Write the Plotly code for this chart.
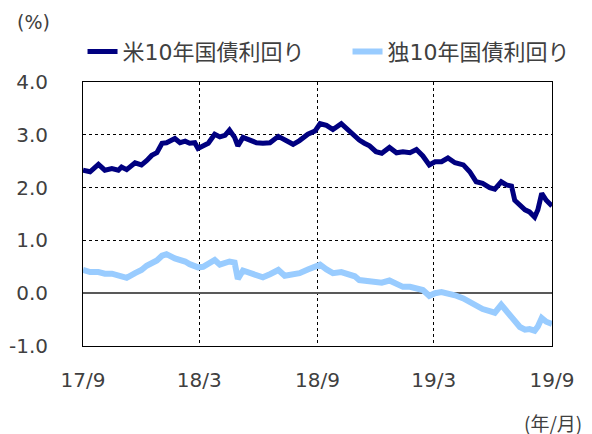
import plotly.graph_objects as go

dates = [
    "2017-09-01", "2017-09-12", "2017-09-25", "2017-10-05", "2017-10-16", "2017-10-26",
    "2017-10-31", "2017-11-08", "2017-11-21", "2017-12-01", "2017-12-09", "2017-12-17",
    "2017-12-25", "2018-01-02", "2018-01-09", "2018-01-22", "2018-01-30", "2018-02-07",
    "2018-02-14", "2018-02-22", "2018-02-27", "2018-03-07", "2018-03-15", "2018-03-25",
    "2018-04-02", "2018-04-10", "2018-04-17", "2018-04-25", "2018-04-30", "2018-05-08",
    "2018-05-18", "2018-05-29", "2018-06-08", "2018-06-19", "2018-07-02", "2018-07-12",
    "2018-07-25", "2018-08-04", "2018-08-17", "2018-08-28", "2018-09-05", "2018-09-15",
    "2018-09-25", "2018-10-08", "2018-10-18", "2018-10-29", "2018-11-05", "2018-11-13",
    "2018-11-21", "2018-12-01", "2018-12-10", "2018-12-22", "2019-01-02", "2019-01-12",
    "2019-01-23", "2019-02-02", "2019-02-12", "2019-02-22", "2019-03-03", "2019-03-13",
    "2019-03-23", "2019-04-03", "2019-04-16", "2019-04-26", "2019-05-06", "2019-05-16",
    "2019-05-27", "2019-06-04", "2019-06-14", "2019-06-22", "2019-06-30", "2019-07-05",
    "2019-07-13", "2019-07-21", "2019-07-28", "2019-08-05", "2019-08-10", "2019-08-16",
    "2019-08-23", "2019-09-01",
]

us_10y = [
    2.33, 2.30, 2.44, 2.33, 2.36, 2.33,
    2.39, 2.34, 2.47, 2.43, 2.51, 2.61,
    2.66, 2.84, 2.85, 2.93, 2.85, 2.88,
    2.84, 2.85, 2.74, 2.79, 2.84, 3.01,
    2.96, 2.99, 3.09, 2.95, 2.79, 2.95,
    2.91, 2.85, 2.84, 2.85, 2.97, 2.90,
    2.82, 2.89, 3.01, 3.07, 3.21, 3.18,
    3.10, 3.21, 3.09, 2.99, 2.90, 2.84,
    2.79, 2.68, 2.65, 2.76, 2.66, 2.68,
    2.66, 2.72, 2.60, 2.43, 2.49, 2.49,
    2.56, 2.47, 2.43, 2.30, 2.11, 2.08,
    2.00, 1.97, 2.11, 2.05, 2.03, 1.76,
    1.67, 1.58, 1.54, 1.44, 1.58, 1.89,
    1.76, 1.65,
]

de_10y = [
    0.44, 0.40, 0.40, 0.37, 0.37, 0.33,
    0.33, 0.29, 0.38, 0.44, 0.52, 0.57,
    0.62, 0.71, 0.74, 0.66, 0.64, 0.60,
    0.55, 0.52, 0.49, 0.50, 0.55, 0.63,
    0.54, 0.57, 0.60, 0.58, 0.27, 0.43,
    0.38, 0.32, 0.30, 0.36, 0.44, 0.33,
    0.35, 0.38, 0.45, 0.50, 0.54, 0.45,
    0.38, 0.40, 0.35, 0.32, 0.25, 0.24,
    0.23, 0.21, 0.20, 0.24, 0.17, 0.12,
    0.12, 0.10, 0.06, -0.05, 0.00, 0.02,
    0.00, -0.04, -0.10, -0.17, -0.25, -0.30,
    -0.34, -0.37, -0.22, -0.34, -0.45, -0.54,
    -0.64, -0.69, -0.68, -0.71, -0.63, -0.47,
    -0.54, -0.58,
]

x_tick_vals = ["2017-09-01", "2018-03-01", "2018-09-01", "2019-03-01", "2019-09-01"]
x_tick_text = ["17/9", "18/3", "18/9", "19/3", "19/9"]
y_tick_vals = [-1, 0, 1, 2, 3, 4]
y_tick_text = ["-1.0", "0.0", "1.0", "2.0", "3.0", "4.0"]

series_names = ["米10年国債利回り", "独10年国債利回り"]

TEXT = "#404040"
TICKFONT = dict(family="DejaVu Sans, Noto Sans CJK JP", size=20, color=TEXT)

fig = go.Figure()
fig.add_trace(go.Scatter(x=dates, y=us_10y, mode="lines", name=series_names[0],
                         line=dict(color="#000080", width=5)))
fig.add_trace(go.Scatter(x=dates, y=de_10y, mode="lines", name=series_names[1],
                         line=dict(color="#99CCFF", width=6)))

fig.update_layout(
    width=592, height=434, autosize=False,
    margin=dict(l=83, r=40, t=82, b=88, autoexpand=False),
    paper_bgcolor="white", plot_bgcolor="white",
    font=dict(family="Noto Sans CJK JP", color=TEXT),
    showlegend=True,
    legend=dict(orientation="h", x=-0.001, xanchor="left", y=1.035, yanchor="bottom",
                font=dict(family="DejaVu Sans, Noto Sans CJK JP", size=22, color=TEXT),
                entrywidth=220, entrywidthmode="pixels",
                bgcolor="rgba(0,0,0,0)", traceorder="normal"),
    xaxis=dict(type="date", range=["2017-09-01", "2019-09-01"],
               tickvals=x_tick_vals, ticktext=x_tick_text,
               showgrid=True, gridcolor="#000000", gridwidth=1, griddash="dot",
               showline=True, linecolor="#000000", linewidth=1, mirror=True,
               ticks="", ticklabelstandoff=16, tickfont=TICKFONT, zeroline=False),
    yaxis=dict(range=[-1, 4], tickvals=y_tick_vals, ticktext=y_tick_text,
               showgrid=True, gridcolor="#000000", gridwidth=1, griddash="dot",
               showline=True, linecolor="#000000", linewidth=1, mirror=True,
               zeroline=True, zerolinecolor="#595959", zerolinewidth=2,
               ticks="", ticklabelstandoff=30, tickfont=TICKFONT),
    annotations=[
        dict(text="(%)", xref="paper", yref="paper", x=-0.146, y=1.226,
             xanchor="left", yanchor="middle", showarrow=False,
             font=dict(family="DejaVu Sans, Noto Sans CJK JP", size=19, color=TEXT)),
        dict(text="(年/月)", xref="paper", yref="paper", x=1.068, y=-0.29,
             xanchor="right", yanchor="middle", showarrow=False,
             font=dict(family="Noto Sans CJK JP", size=19, color=TEXT)),
    ],
)

fig.write_html("out.html", config={"displayModeBar": False},
               post_script="document.body.style.margin='0';")
